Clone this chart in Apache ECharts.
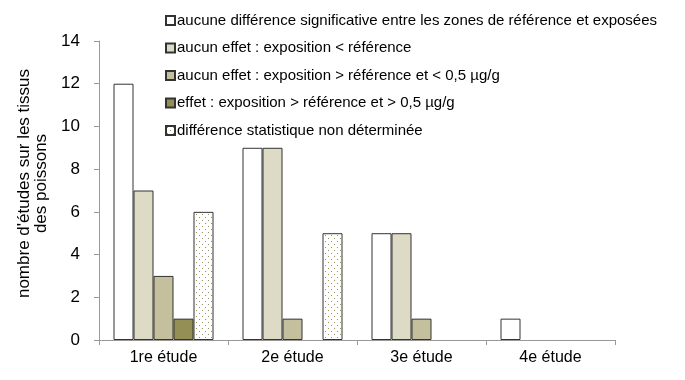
<!DOCTYPE html>
<html><head><meta charset="utf-8">
<script src="https://cdn.jsdelivr.net/npm/echarts@6/dist/echarts.min.js"></script>
<style>html,body{margin:0;padding:0;background:#fff}#c{width:685px;height:380px}</style>
</head><body><div id="c"></div>
<script>
const categories = ['1re étude', '2e étude', '3e étude', '4e étude'];
const seriesNames = [
  'aucune différence significative entre les zones de référence et exposées',
  'aucun effet : exposition < référence',
  'aucun effet : exposition > référence et < 0,5 µg/g',
  'effet : exposition > référence et > 0,5 µg/g',
  'différence statistique non déterminée'
];
const s1 = [12, 9, 5, 1];
const s2 = [7, 9, 5, null];
const s3 = [3, 1, 1, null];
const s4 = [1, null, null, null];
const s5 = [6, 5, null, null];
const yTicks = { min: 0, max: 14, interval: 2 };

const pc = document.createElement('canvas');
pc.width = 6; pc.height = 6;
const ctx = pc.getContext('2d');
ctx.fillStyle = '#ffffff'; ctx.fillRect(0, 0, 6, 6);
ctx.fillStyle = '#9a9460';
ctx.fillRect(1, 1, 1, 1);
ctx.fillRect(4, 4, 1, 1);

const fills = ['#ffffff', '#dddac6', '#c4bf9c', '#948f55', { image: pc, repeat: 'repeat' }];
const data = [s1, s2, s3, s4, s5];
const chart = echarts.init(document.getElementById('c'), null, { renderer: 'canvas' });
chart.setOption({
  animation: false,
  textStyle: { fontFamily: 'Liberation Sans, Arial, sans-serif' },
  grid: { left: 99, right: 70, top: 41, bottom: 40 },
  legend: {
    orient: 'vertical', left: 160, top: 8,
    icon: 'path://M0,0H10V10H0Z',
    itemWidth: 9, itemHeight: 9, itemGap: 12.5,
    textStyle: { fontSize: 15, color: '#000', padding: [0, 0, 0, -3] },
    data: seriesNames
  },
  xAxis: {
    type: 'category', data: categories,
    axisLine: { lineStyle: { color: '#999' } },
    axisTick: { show: true, length: 5, lineStyle: { color: '#999' } },
    axisLabel: { fontSize: 16, color: '#000', margin: 10 }
  },
  yAxis: {
    type: 'value', min: yTicks.min, max: yTicks.max, interval: yTicks.interval,
    name: "nombre d'études sur les tissus\ndes poissons",
    nameLocation: 'middle', nameGap: 37,
    nameTextStyle: { fontSize: 17, color: '#000', lineHeight: 17, padding: [0, 0, 0, 14] },
    axisLine: { show: true, lineStyle: { color: '#999' } },
    axisTick: { show: true, length: 5, lineStyle: { color: '#999' } },
    splitLine: { show: false },
    axisLabel: { fontSize: 17, color: '#000', margin: 19 }
  },
  series: data.map((d, i) => ({
    name: seriesNames[i], type: 'bar', data: d,
    barWidth: 20, barGap: '0%',
    itemStyle: { color: fills[i], borderColor: '#333', borderWidth: 1 }
  }))
});
</script></body></html>
